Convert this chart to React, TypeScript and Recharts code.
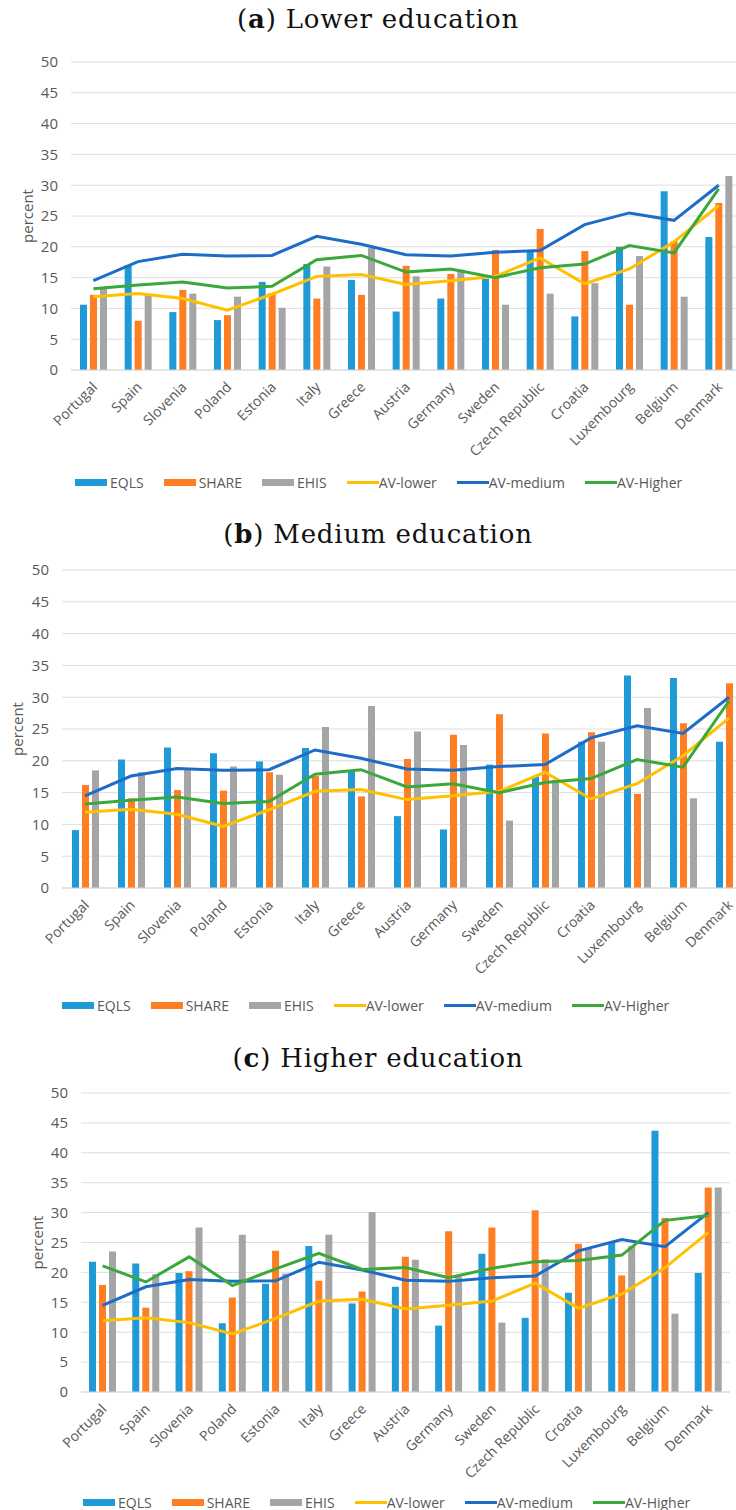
import React from "react";
import { ComposedChart, Bar, Line, XAxis, YAxis, CartesianGrid, Legend } from "recharts";

const countries = [
  "Portugal", "Spain", "Slovenia", "Poland", "Estonia", "Italy", "Greece", "Austria",
  "Germany", "Sweden", "Czech Republic", "Croatia", "Luxembourg", "Belgium", "Denmark",
];

// averages shared by the three panels
const avLower = [11.9, 12.4, 11.6, 9.7, 12.3, 15.2, 15.5, 13.9, 14.5, 15.2, 18.2, 14.0, 16.4, 20.8, 26.7];
const avMedium = [14.5, 17.6, 18.8, 18.5, 18.6, 21.7, 20.4, 18.7, 18.5, 19.1, 19.4, 23.6, 25.5, 24.3, 30.0];
const avHigherAB = [13.2, 13.8, 14.3, 13.3, 13.6, 17.9, 18.6, 15.9, 16.4, 15.0, 16.6, 17.2, 20.2, 19.0, 29.4];
const avHigherC = [21.1, 18.4, 22.6, 17.8, 20.6, 23.2, 20.5, 20.8, 19.1, 20.7, 21.8, 22.0, 22.9, 28.7, 29.5];

// (a) lower education
const eqlsLower = [10.6, 17.0, 9.4, 8.1, 14.3, 17.2, 14.6, 9.5, 11.6, 14.8, 19.4, 8.7, 20.0, 29.0, 21.6];
const shareLower = [12.2, 8.0, 13.0, 8.9, 12.5, 11.6, 12.2, 16.9, 15.6, 19.5, 22.9, 19.3, 10.6, 20.9, 27.1];
const ehisLower = [13.2, 12.2, 12.4, 11.9, 10.1, 16.8, 19.8, 15.2, 16.3, 10.6, 12.4, 14.1, 18.5, 11.9, 31.5];

// (b) medium education
const eqlsMedium = [9.1, 20.2, 22.1, 21.2, 19.9, 22.0, 18.4, 11.3, 9.2, 19.4, 17.5, 23.0, 33.4, 33.0, 23.0];
const shareMedium = [16.2, 14.1, 15.4, 15.3, 18.2, 17.6, 14.4, 20.3, 24.1, 27.3, 24.3, 24.5, 14.8, 25.9, 32.2];
const ehisMedium = [18.5, 18.2, 18.7, 19.1, 17.8, 25.3, 28.6, 24.6, 22.5, 10.6, 17.0, 23.0, 28.3, 14.1, 34.3];

// (c) higher education
const eqlsHigher = [21.8, 21.5, 19.9, 11.5, 18.1, 24.4, 14.8, 17.6, 11.1, 23.1, 12.4, 16.6, 25.0, 43.7, 19.9];
const shareHigher = [17.9, 14.1, 20.2, 15.8, 23.6, 18.6, 16.8, 22.6, 26.9, 27.5, 30.4, 24.8, 19.5, 29.1, 34.2];
const ehisHigher = [23.5, 19.7, 27.5, 26.3, 19.8, 26.3, 30.1, 22.1, 19.3, 11.6, 22.2, 24.0, 24.4, 13.1, 34.2];

const yTicks = [0, 5, 10, 15, 20, 25, 30, 35, 40, 45, 50];
const seriesOrder = ["EQLS", "SHARE", "EHIS", "AV-lower", "AV-medium", "AV-Higher"];

const C = {
  eqls: "#1f9ad6",
  share: "#fd7e23",
  ehis: "#a5a5a5",
  lower: "#ffc000",
  medium: "#1d6dc8",
  higher: "#3aa83a",
};
const TXT = "#595959";
const SANS = "'Open Sans', sans-serif";

function buildRows(eqls: number[], share: number[], ehis: number[], higher: number[]) {
  return countries.map((c, i) => ({
    country: c,
    EQLS: eqls[i],
    SHARE: share[i],
    EHIS: ehis[i],
    "AV-lower": avLower[i],
    "AV-medium": avMedium[i],
    "AV-Higher": higher[i],
  }));
}

const CountryTick = (props: any) => {
  const { x, y, payload } = props;
  return (
    <g transform={`translate(${x + 1},${y + 14}) rotate(-45)`}>
      <text textAnchor="end" dominantBaseline="central" fill={TXT} fontSize={14} fontFamily={SANS}>
        {payload.value}
      </text>
    </g>
  );
};

const LegendRow = (props: any) => {
  const items = [...(props.payload || [])].sort(
    (a: any, b: any) => seriesOrder.indexOf(a.value) - seriesOrder.indexOf(b.value)
  );
  return (
    <div style={{ display: "flex", alignItems: "center", gap: 20, fontFamily: SANS, fontSize: 14, color: TXT, height: 24 }}>
      {items.map((p: any) => (
        <div key={p.value} style={{ display: "flex", alignItems: "center" }}>
          <span
            style={{
              display: "inline-block",
              width: 32,
              height: p.type === "line" ? 3 : 7,
              background: p.color,
              marginRight: p.type === "line" ? 0 : 3,
            }}
          />
          <span>{p.value}</span>
        </div>
      ))}
    </div>
  );
};

type PanelProps = {
  rows: any[];
  top: number;
  width: number;
  height: number;
  plotLeft: number;
  margin: { top: number; right: number; bottom: number };
  xHeight: number;
  barSize: number;
  labelOffset: number;
  legendLeft: number;
};

function Panel(p: PanelProps) {
  return (
    <div style={{ position: "absolute", left: 0, top: p.top }}>
      <ComposedChart
        width={p.width}
        height={p.height}
        data={p.rows}
        margin={{ top: p.margin.top, right: p.margin.right, bottom: p.margin.bottom, left: 0 }}
        barGap={3}
        barSize={p.barSize}
      >
        <CartesianGrid vertical={false} stroke="#dedede" />
        <XAxis
          dataKey="country"
          interval={0}
          height={p.xHeight}
          tickLine={false}
          tickSize={0}
          tickMargin={0}
          axisLine={{ stroke: "#d9d9d9" }}
          tick={<CountryTick />}
        />
        <YAxis
          width={p.plotLeft}
          domain={[0, 50]}
          ticks={yTicks}
          interval={0}
          axisLine={false}
          tickLine={false}
          tickSize={0}
          tickMargin={13}
          tick={{ fill: TXT, fontSize: 15, fontFamily: SANS }}
          label={{
            value: "percent",
            angle: -90,
            position: "insideLeft",
            offset: p.labelOffset,
            style: { textAnchor: "middle", fill: TXT, fontSize: 15, fontFamily: SANS },
          }}
        />
        <Legend
          verticalAlign="bottom"
          content={<LegendRow />}
          wrapperStyle={{ left: p.legendLeft, width: "auto" }}
        />
        <Bar dataKey="EQLS" fill={C.eqls} isAnimationActive={false} />
        <Bar dataKey="SHARE" fill={C.share} isAnimationActive={false} />
        <Bar dataKey="EHIS" fill={C.ehis} isAnimationActive={false} />
        <Line dataKey="AV-lower" stroke={C.lower} strokeWidth={3} dot={false} isAnimationActive={false} />
        <Line dataKey="AV-medium" stroke={C.medium} strokeWidth={3} dot={false} isAnimationActive={false} />
        <Line dataKey="AV-Higher" stroke={C.higher} strokeWidth={3} dot={false} isAnimationActive={false} />
      </ComposedChart>
    </div>
  );
}

const Title = ({ top, letter, text }: { top: number; letter: string; text: string }) => (
  <div
    style={{
      position: "absolute",
      top,
      left: 0,
      width: 756,
      textAlign: "center",
      fontFamily: "'DejaVu Serif', serif",
      fontSize: 26,
      letterSpacing: 0.8,
      color: "#111",
      lineHeight: "30px",
    }}
  >
    (<b>{letter}</b>) {text}
  </div>
);

export default function App() {
  return (
    <div style={{ position: "absolute", left: 0, top: 0, width: 736, height: 1510, overflow: "hidden", background: "#fff" }}>
      <Title top={4} letter="a" text="Lower education" />
      <Panel
        rows={buildRows(eqlsLower, shareLower, ehisLower, avHigherAB)}
        top={40}
        width={745}
        height={460}
        plotLeft={71}
        margin={{ top: 22, right: 4, bottom: 6 }}
        xHeight={100}
        barSize={7}
        labelOffset={28}
        legendLeft={75}
      />
      <Title top={519} letter="b" text="Medium education" />
      <Panel
        rows={buildRows(eqlsMedium, shareMedium, ehisMedium, avHigherAB)}
        top={550}
        width={752}
        height={471}
        plotLeft={62}
        margin={{ top: 20, right: 0, bottom: 4 }}
        xHeight={105}
        barSize={7}
        labelOffset={18}
        legendLeft={62}
      />
      <Title top={1043} letter="c" text="Higher education" />
      <Panel
        rows={buildRows(eqlsHigher, shareHigher, ehisHigher, avHigherC)}
        top={1075}
        width={736}
        height={439}
        plotLeft={81}
        margin={{ top: 18, right: 6, bottom: 0 }}
        xHeight={98}
        barSize={7}
        labelOffset={38}
        legendLeft={83}
      />
    </div>
  );
}
